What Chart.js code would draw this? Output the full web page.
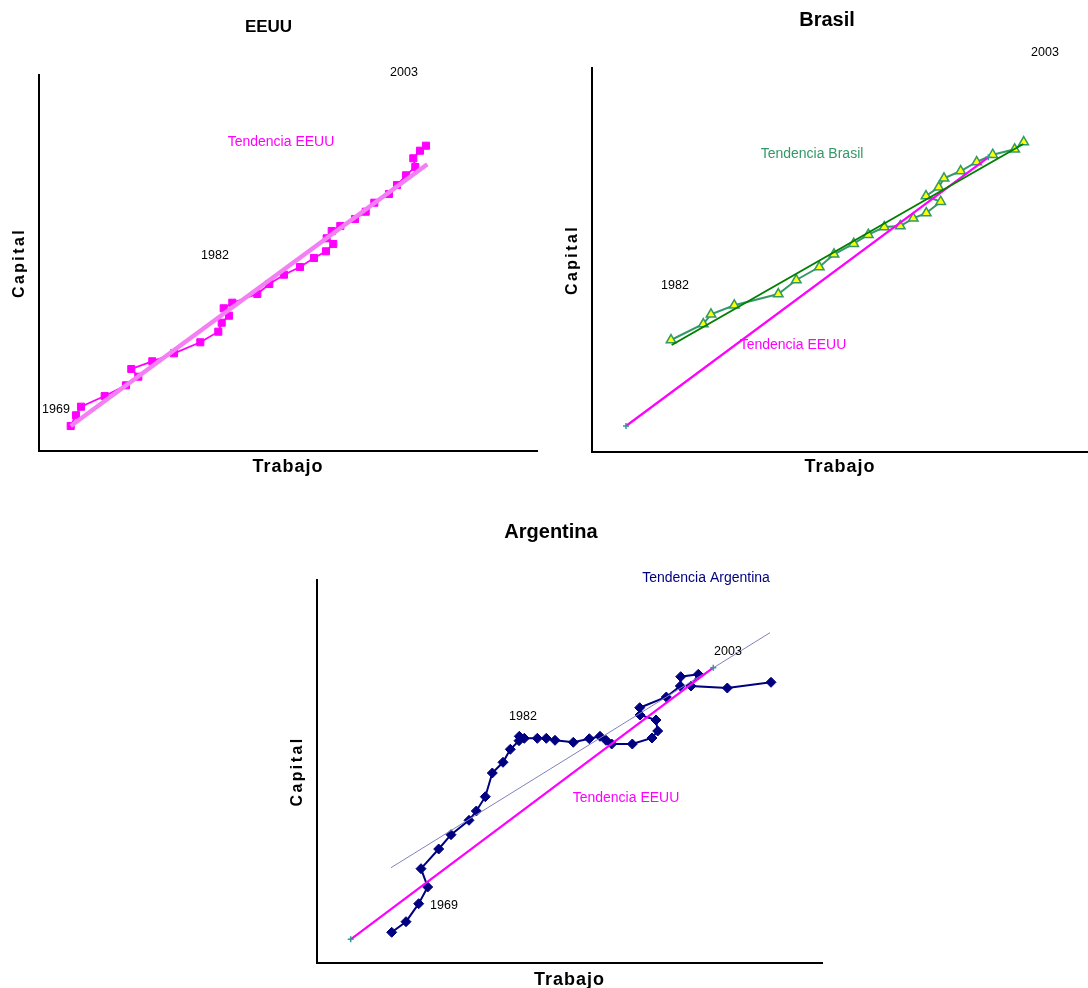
<!DOCTYPE html>
<html>
<head>
<meta charset="utf-8">
<script src="https://cdn.jsdelivr.net/npm/chart.js@4.4.1/dist/chart.umd.min.js"></script>
<style>
  html, body { margin: 0; padding: 0; background: #fff; overflow: hidden; width: 1088px; height: 988px; }
  .box { position: absolute; }
</style>
</head>
<body>
<div class="box" style="left:0px;top:0px;width:540px;height:490px;"><canvas id="cEEUU"></canvas></div>
<div class="box" style="left:544px;top:0px;width:544px;height:490px;"><canvas id="cBrasil"></canvas></div>
<div class="box" style="left:270px;top:500px;width:560px;height:500px;"><canvas id="cArg"></canvas></div>
<script>
// ---------- DATA (arbitrary units: Trabajo on x, Capital on y) ----------
// EEUU 1969-2003
const eeuuTrabajo = [31.7,37,42,65.7,87,99.3,92.3,113.3,135,161.3,179.3,182.7,190,184.7,193.3,218.3,230.3,245,261,275,287,294.3,287.7,292.7,301.3,316,326.7,335.3,350,358,367,376.3,374.3,381,387];
const eeuuCapital = [25,35.7,44.3,55,65.7,74.3,82,89.7,97.7,108.7,119.3,128.3,135.3,142.7,148.3,157,167,176.3,184,193,199.7,207,212.7,220,225,232,239.3,248.3,257,266,275.7,284,292.7,300.3,305.3];
const eeuuTrendTrabajo = [31.7, 388.3];
const eeuuTrendCapital = [25, 286.7];
const eeuuNotes = [
  {text:'2003', x:365, y:378, kind:'year'},
  {text:'Tendencia EEUU', x:242, y:309, kind:'eeuu'},
  {text:'1982', x:176, y:195, kind:'year'},
  {text:'1969', x:17, y:41, kind:'year'}
];

// Brasil 1982-2003
const brasilTrabajo = [79,111.3,119,142.3,186.3,204.3,227.3,242,261.7,276.3,292.3,308.3,321.3,334.3,348.7,334,346.7,352,368.7,384.7,400.7,422.7,431.7];
const brasilCapital = [112,128,137.7,146.7,158,172,185,197.7,208.3,217.3,225,226,233.7,239,250.3,256,264.7,273.7,281,290,297.3,302.7,310];
const brasilTrendTrabajo = [79.7, 431.3];
const brasilTrendCapital = [107, 308];
const brasilEeuuTrendTrabajo = [34, 396.3];
const brasilEeuuTrendCapital = [26, 294.7];
const brasilNotes = [
  {text:'2003', x:453, y:399, kind:'year'},
  {text:'Tendencia Brasil', x:220, y:298, kind:'brasil'},
  {text:'1982', x:83, y:166, kind:'year'},
  {text:'Tendencia EEUU', x:201, y:107, kind:'eeuu'}
];

// Argentina
const argTrabajo = [74.7,89,101.7,110.7,104,121.7,134,152,159.3,168.3,175.3,186,193.3,202,202.3,207.3,220.3,229.3,238,256.3,272.3,283,289,294.7,315.3,335,340.7,339,323,322.7,349.3,363.3,363.7,381.3,374,410.3,454];
const argCapital = [30.7,41.3,59.3,76,94.3,114,128.3,142.7,152,166.3,190,200.7,213.7,222.3,226.7,224.7,224.7,224.7,222.7,220.7,224.3,226.7,222.7,219,219,225,232,243,248,255.3,266,277,286.3,288.7,277,275,280.7];
const argTrendTrabajo = [74, 453];
const argTrendCapital = [95.3, 330.3];
const argEeuuTrendTrabajo = [33.7, 396.3];
const argEeuuTrendCapital = [23.7, 295.3];
const argNotes = [
  {text:'Tendencia Argentina', x:389, y:385, kind:'arg'},
  {text:'2003', x:411, y:311, kind:'year'},
  {text:'1982', x:206, y:246, kind:'year'},
  {text:'Tendencia EEUU', x:309, y:165, kind:'eeuu'},
  {text:'1969', x:127, y:57, kind:'year'}
];

// ---------- HELPERS ----------
const FONT = '"Liberation Sans", Arial, sans-serif';
const zip = (xs, ys) => xs.map((v, i) => ({x: v, y: ys[i]}));
const noteStyle = {
  year:   {color:'#000000', size:12.5},
  eeuu:   {color:'#FF00FF', size:14},
  brasil: {color:'#339966', size:14},
  arg:    {color:'#000080', size:14}
};
const axisTitleSpacing = { x: '1px', y: '2.4px' };

function notesPlugin(notes) {
  return {
    id: 'notes',
    beforeDraw(chart) {
      // letter spacing for axis titles (wraps the scale title drawing)
      Object.values(chart.scales).forEach(sc => {
        if (sc._spacingPatched) return;
        const orig = sc.drawTitle.bind(sc);
        sc.drawTitle = function () {
          const c = this.ctx;
          c.save();
          try { c.letterSpacing = axisTitleSpacing[this.id] || '0px'; } catch (e) {}
          orig();
          c.restore();
        };
        sc._spacingPatched = true;
      });
    },
    afterDatasetsDraw(chart) {
      const {ctx, scales} = chart;
      ctx.save();
      try { ctx.letterSpacing = '0px'; } catch (e) {}
      ctx.textAlign = 'center';
      ctx.textBaseline = 'middle';
      notes.forEach(n => {
        const st = noteStyle[n.kind];
        ctx.font = st.size + 'px ' + FONT;
        ctx.fillStyle = st.color;
        ctx.fillText(n.text, scales.x.getPixelForValue(n.x), scales.y.getPixelForValue(n.y));
      });
      ctx.restore();
    }
  };
}

function makeChart(id, cfg) {
  new Chart(document.getElementById(id), {
    type: 'scatter',
    data: { datasets: cfg.datasets },
    options: {
      responsive: true,
      maintainAspectRatio: false,
      animation: false,
      events: [],
      layout: { padding: cfg.layoutPadding, autoPadding: false },
      plugins: {
        legend: { display: false },
        tooltip: { enabled: false },
        title: {
          display: true,
          text: cfg.title,
          color: '#000',
          font: { family: FONT, size: cfg.titleSize, weight: 'bold' },
          padding: cfg.titlePadding
        }
      },
      scales: {
        x: {
          type: 'linear',
          min: 0, max: cfg.xMax,
          ticks: { display: false },
          grid: { display: false, drawTicks: false },
          border: { display: true, color: '#000', width: 2 },
          title: {
            display: true, text: 'Trabajo', color: '#000',
            font: { family: FONT, size: 18, weight: 'bold' },
            padding: cfg.xTitlePadding
          }
        },
        y: {
          type: 'linear',
          min: 0, max: cfg.yMax,
          ticks: { display: false },
          grid: { display: false, drawTicks: false },
          border: { display: true, color: '#000', width: 2 },
          title: {
            display: true, text: 'Capital', color: '#000',
            font: { family: FONT, size: 16, weight: 'bold' },
            padding: cfg.yTitlePadding
          }
        }
      }
    },
    plugins: [notesPlugin(cfg.notes)]
  });
}

const trendEnds = {
  showLine: true, borderColor: '#FF00FF', borderWidth: 2.2,
  pointStyle: 'cross', pointRadius: 3, pointBorderColor: '#339999', pointBorderWidth: 1.5
};

// ---------- EEUU ----------
makeChart('cEEUU', {
  title: 'EEUU', titleSize: 17,
  xMax: 498, yMax: 376,
  layoutPadding: {left: 0, right: 3, top: 0, bottom: 0},
  titlePadding: {top: 16.8, bottom: 37.8},
  yTitlePadding: {top: 10.4, bottom: 9.4},
  xTitlePadding: {top: 5.2, bottom: 12.2},
  notes: eeuuNotes,
  datasets: [
    { data: zip(eeuuTrendTrabajo, eeuuTrendCapital), showLine: true, borderColor: '#F47FF4', borderWidth: 4.5, pointRadius: 0 },
    { data: zip(eeuuTrabajo, eeuuCapital), showLine: true, borderColor: '#FF00FF', borderWidth: 1.8,
      pointStyle: 'rect', pointRadius: 5, pointBackgroundColor: '#FF00FF', pointBorderColor: '#FF00FF', pointBorderWidth: 1 }
  ]
});

// ---------- Brasil ----------
makeChart('cBrasil', {
  title: 'Brasil', titleSize: 20,
  xMax: 496, yMax: 384,
  layoutPadding: {left: 22, right: 0, top: 0, bottom: 0},
  titlePadding: {top: 8, bottom: 36},
  yTitlePadding: {top: -2.6, bottom: 9.4},
  xTitlePadding: {top: 4.2, bottom: 12.2},
  notes: brasilNotes,
  datasets: [
    { data: zip(brasilTrendTrabajo, brasilTrendCapital), showLine: true, borderColor: '#008000', borderWidth: 2, pointRadius: 0 },
    Object.assign({ data: zip(brasilEeuuTrendTrabajo, brasilEeuuTrendCapital) }, trendEnds),
    { data: zip(brasilTrabajo, brasilCapital), showLine: true, borderColor: '#339966', borderWidth: 2,
      pointStyle: 'triangle', pointRadius: 5.5, pointBackgroundColor: '#FFFF00', pointBorderColor: '#339966', pointBorderWidth: 1.5 }
  ]
});

// ---------- Argentina ----------
makeChart('cArg', {
  title: 'Argentina', titleSize: 20,
  xMax: 505, yMax: 383,
  layoutPadding: {left: 10, right: 8, top: 0, bottom: 0},
  titlePadding: {top: 20, bottom: 36},
  yTitlePadding: {top: 8.4, bottom: 9.4},
  xTitlePadding: {top: 6.2, bottom: 9.2},
  notes: argNotes,
  datasets: [
    Object.assign({ data: zip(argEeuuTrendTrabajo, argEeuuTrendCapital) }, trendEnds),
    { data: zip(argTrendTrabajo, argTrendCapital), showLine: true, borderColor: '#8080C0', borderWidth: 1, pointRadius: 0 },
    { data: zip(argTrabajo, argCapital), showLine: true, borderColor: '#000080', borderWidth: 2,
      pointStyle: 'rectRot', pointRadius: 5, pointBackgroundColor: '#000080', pointBorderColor: '#000080', pointBorderWidth: 1 }
  ]
});
</script>
</body>
</html>
